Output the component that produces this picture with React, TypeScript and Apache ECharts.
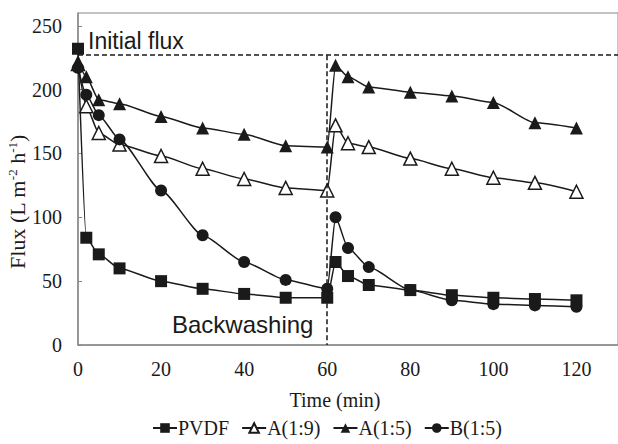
import React, { useEffect, useRef } from "react";
import * as echarts from "echarts";

const times = [0, 2, 5, 10, 20, 30, 40, 50, 60, 62, 65, 70, 80, 90, 100, 110, 120];
const pvdf = [232, 84, 71, 60, 50, 44, 40, 37, 37, 65, 54, 47, 43, 39, 37, 36, 35];
const a19 = [220, 187, 166, 157, 148, 138, 130, 123, 121, 172, 158, 155, 146, 138, 131, 127, 120];
const a15 = [222, 210, 192, 189, 179, 170, 165, 156, 155, 219, 210, 202, 198, 195, 190, 174, 170];
const b15 = [217, 196, 180, 161, 121, 86, 65, 51, 44, 100, 76, 61, 43, 35, 32, 31, 30];
const seriesNames = ["PVDF", "A(1:9)", "A(1:5)", "B(1:5)"];
const initialFlux = 227;
const backwashTime = 60;
const xMax = 130;
const yMax = 260;

const INK = "#1a1a1a";
const SERIF = "Liberation Serif";
const SANS = "Liberation Sans";

function pairs(ys: number[]) {
  return times.map((t, i) => [t, ys[i]]);
}

export default function App() {
  const ref = useRef<HTMLDivElement>(null);
  useEffect(() => {
    if (!ref.current) return;
    const chart = echarts.init(ref.current, null, { renderer: "svg" });
    const base = {
      type: "line" as const,
      smooth: 0.2,
      smoothMonotone: "x" as const,
      lineStyle: { color: INK, width: 1.5 },
      symbolSize: 12,
    };
    chart.setOption({
      animation: false,
      grid: {
        left: 78,
        top: 13,
        right: -2,
        bottom: 99,
        show: true,
        borderColor: "#888",
        borderWidth: 1,
      },
      xAxis: {
        type: "value",
        min: 0,
        max: xMax,
        interval: 20,
        name: "Time (min)",
        nameLocation: "middle",
        nameGap: 45,
        nameTextStyle: { fontFamily: SERIF, fontSize: 20, color: INK, padding: [0, 26, 0, 0] },
        axisLine: { show: true, lineStyle: { color: "#888", width: 1.5 } },
        axisTick: { show: false },
        splitLine: { show: false },
        axisLabel: {
          fontFamily: SERIF,
          fontSize: 20,
          color: INK,
          margin: 14,
          showMaxLabel: false,
        },
      },
      yAxis: {
        type: "value",
        min: 0,
        max: yMax,
        interval: 50,
        axisLine: { show: true, lineStyle: { color: "#888", width: 1.5 } },
        axisTick: { show: true, inside: true, length: 4, lineStyle: { color: "#888" } },
        splitLine: { show: false },
        axisLabel: {
          fontFamily: SERIF,
          fontSize: 20,
          color: INK,
          margin: 16,
          showMaxLabel: false,
        },
      },
      legend: {
        data: seriesNames,
        bottom: 1,
        left: 147,
        itemGap: 12,
        itemWidth: 24,
        itemHeight: 12,
        textStyle: { fontFamily: SERIF, fontSize: 20, color: INK, padding: [0, 0, 0, -4] },
      },
      graphic: [
        {
          type: "text",
          x: 88,
          y: 41,
          style: {
            text: "Initial flux",
            font: `23px ${SANS}`,
            fill: INK,
            align: "left",
            verticalAlign: "middle",
          },
        },
        {
          type: "text",
          x: 172,
          y: 324,
          style: {
            text: "Backwashing",
            font: `24px ${SANS}`,
            fill: INK,
            align: "left",
            verticalAlign: "middle",
          },
        },
        {
          type: "text",
          x: 17,
          y: 202,
          rotation: Math.PI / 2,
          style: {
            text: "Flux (L m{sup|-2} h{sup|-1})",
            fontFamily: SERIF,
            fontSize: 22,
            fill: INK,
            align: "center",
            verticalAlign: "middle",
            rich: {
              sup: { fontFamily: SERIF, fontSize: 13, fill: INK, verticalAlign: "top", padding: [0, 0, 9, 0] },
            },
          },
        },
      ],
      series: [
        {
          ...base,
          name: seriesNames[0],
          data: pairs(pvdf),
          symbol: "rect",
          itemStyle: { color: INK },
          z: 4,
          markLine: {
            silent: true,
            symbol: "none",
            label: { show: false },
            lineStyle: { color: INK, type: [5, 3], width: 1.5 },
            data: [
              [{ coord: [0, initialFlux] }, { coord: [xMax, initialFlux] }],
              [{ coord: [backwashTime, initialFlux] }, { coord: [backwashTime, 0] }],
            ],
          },
        },
        {
          ...base,
          name: seriesNames[1],
          data: pairs(a19),
          symbol: "triangle",
          symbolSize: 13,
          itemStyle: { color: "#fff", borderColor: INK, borderWidth: 1.5 },
          z: 3,
        },
        {
          ...base,
          name: seriesNames[2],
          data: pairs(a15),
          symbol: "triangle",
          symbolSize: 13,
          itemStyle: { color: INK },
          z: 3,
        },
        {
          ...base,
          name: seriesNames[3],
          data: pairs(b15),
          symbol: "circle",
          itemStyle: { color: INK },
          z: 3,
        },
      ],
    });
    return () => chart.dispose();
  }, []);
  return (
    <div
      ref={ref}
      style={{ position: "fixed", left: 0, top: 0, width: 618, height: 444, background: "#fff" }}
    />
  );
}
